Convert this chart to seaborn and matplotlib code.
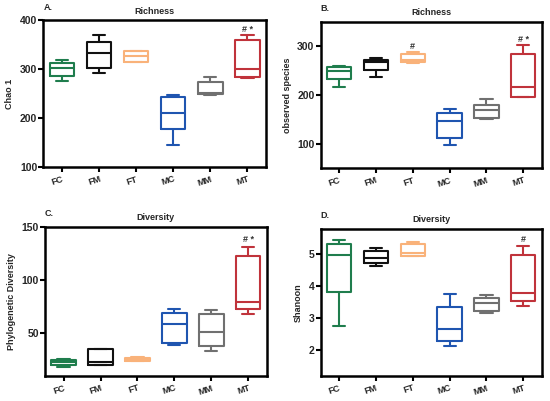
import numpy as np
import pandas as pd
import matplotlib
matplotlib.use("Agg")
import matplotlib.pyplot as plt
import seaborn as sns

groups = ["FC", "FM", "FT", "MC", "MM", "MT"]
colors = ["#1f7d4d", "#111111", "#f9b27a", "#1f55b0", "#707070", "#c0333b"]

# five-number summaries per group: [min, q1, median, q3, max]
chao1 = {
    "FC": [276, 287, 303, 312, 319],
    "FM": [293, 302, 334, 356, 371],
    "FT": [314, 315, 327, 338, 338],
    "MC": [145, 177, 210, 244, 248],
    "MM": [248, 250, 252, 273, 285],
    "MT": [283, 285, 301, 359, 370],
}
observed = {
    "FC": [216, 233, 250, 257, 260],
    "FM": [238, 251, 267, 272, 277],
    "FT": [265, 267, 272, 285, 289],
    "MC": [98, 111, 146, 163, 171],
    "MM": [151, 153, 169, 180, 191],
    "MT": [195, 195, 216, 284, 303],
}
pd_div = {
    "FC": [18.4, 20.3, 22.5, 25.0, 26.0],
    "FM": [19.7, 19.7, 23.0, 34.7, 34.9],
    "FT": [23.4, 23.4, 25.0, 26.9, 27.8],
    "MC": [39, 41, 59, 69, 73],
    "MM": [33, 38, 50.6, 68, 71.6],
    "MT": [68, 72.5, 79, 122, 131],
}
shannon = {
    "FC": [2.77, 3.82, 4.99, 5.32, 5.45],
    "FM": [4.63, 4.74, 4.89, 5.09, 5.20],
    "FT": [4.94, 4.94, 5.05, 5.32, 5.37],
    "MC": [2.13, 2.30, 2.66, 3.35, 3.75],
    "MM": [3.16, 3.24, 3.48, 3.62, 3.71],
    "MT": [3.39, 3.55, 3.80, 4.99, 5.25],
}

panels = [
    dict(data=chao1, letter="A.", title="Richness", ylabel="Chao 1",
         ylim=(100, 400), yticks=[100, 200, 300, 400],
         marks={"MT": "# *"}, pad=12,
         pos=[0.079, 0.584, 0.4046, 0.365]),
    dict(data=observed, letter="B.", title="Richness", ylabel="observed species",
         ylim=(50, 350), yticks=[100, 200, 300],
         marks={"FT": "#", "MT": "# *"}, pad=11,
         pos=[0.583, 0.581, 0.402, 0.364]),
    dict(data=pd_div, letter="C.", title="Diversity", ylabel="Phylogenetic Diversity",
         ylim=(10, 150), yticks=[50, 100, 150],
         marks={"MT": "# *"}, pad=7,
         pos=[0.082, 0.0631, 0.403, 0.3716]),
    dict(data=shannon, letter="D.", title="Diversity", ylabel="Shanoon",
         ylim=(1.2, 5.8), yticks=[2, 3, 4, 5],
         marks={"MT": "#"}, pad=0.22,
         pos=[0.583, 0.0631, 0.402, 0.3666]),
]

sns.set_theme(style="ticks")
plt.rcParams["font.family"] = ["Liberation Sans", "DejaVu Sans"]
plt.rcParams["font.weight"] = "bold"

fig = plt.figure(figsize=(5.5, 4.01), dpi=100)

for p in panels:
    ax = fig.add_axes(p["pos"])
    rows = []
    for g in groups:
        for v in p["data"][g]:
            rows.append({"group": g, "value": v})
    df = pd.DataFrame(rows)
    sns.boxplot(data=df, x="group", y="value", hue="group", order=groups,
                hue_order=groups, palette=colors, fill=False, whis=(0, 100),
                width=0.66, linewidth=1.5, legend=False, ax=ax)
    ax.set_xlim(-0.5, 5.5)
    ax.set_ylim(*p["ylim"])
    ax.set_yticks(p["yticks"])
    ax.set_xlabel("")
    ax.set_ylabel(p["ylabel"], fontsize=6.5, fontweight="bold", labelpad=4)
    for s in ax.spines.values():
        s.set_visible(True)
        s.set_linewidth(1.8)
        s.set_color("black")
    ax.tick_params(axis="both", width=1.5, length=3.5, color="black",
                   direction="out")
    ax.tick_params(axis="y", labelsize=7.5, pad=1)
    ax.tick_params(axis="x", labelsize=6.5, pad=2)
    for lab in ax.get_xticklabels():
        lab.set_rotation(18)
        lab.set_ha("right")
        lab.set_rotation_mode("anchor")
        lab.set_fontweight("bold")
    for lab in ax.get_yticklabels():
        lab.set_fontweight("bold")
    ax.set_title(p["title"], fontsize=6.5, fontweight="bold", pad=5)
    ax.text(0.0, 1.06, p["letter"], transform=ax.transAxes, fontsize=6.5,
            fontweight="bold", ha="left", va="bottom")
    for g, txt in p["marks"].items():
        i = groups.index(g)
        top = max(p["data"][g])
        ax.text(i, top + p["pad"], txt, ha="center", va="center",
                fontsize=6.5, color="#333333", fontweight="bold")

fig.savefig("out.png", dpi=100)
